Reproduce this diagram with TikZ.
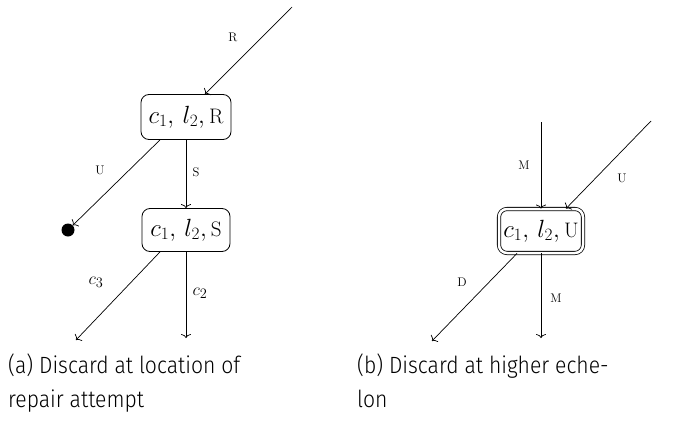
\documentclass[tikz,border=0pt]{standalone}
\usepackage{fontspec}
\newfontfamily\capfont{Fira Sans Light}[FakeStretch=0.9]
\usetikzlibrary{calc,arrows.meta}
\newcommand\nsc[1]{{\fontsize{21}{21}\selectfont #1}}
\begin{document}
\begin{tikzpicture}[x=1pt,y=1pt,
  state/.style={draw,rounded corners=8pt,minimum width=90pt,minimum height=45pt,inner sep=1pt,font=\fontsize{27}{30}\selectfont,line width=0.8pt},
  dstate/.style={state,double,double distance=2.5pt,minimum width=84pt,minimum height=44pt},
  edge/.style={-{To[length=4pt,width=10pt]},line width=0.7pt},
  lab/.style={font=\fontsize{12.5}{14}\selectfont,inner sep=0pt},
  mlab/.style={font=\fontsize{19}{22}\selectfont,inner sep=0pt},
  captext/.style={font=\capfont\fontsize{23.5}{34}\selectfont,anchor=north west,align=left,inner sep=0pt},
  dot/.style={circle,fill,inner sep=0pt,minimum size=13pt}]
\useasboundingbox (0,0) rectangle (680,-423);
% panel a
\node[state] (R) at (186,-117) {$c_1,\,l_2,\,$\nsc{R}};
\node[state,minimum width=88pt,minimum height=43pt] (S) at (186,-230) {$c_1,\,l_2,\,$\nsc{S}};
\node[dot] (D1) at (68,-230) {};
\coordinate (rin) at (292,-7);
\coordinate (c3end) at (76,-340);
\coordinate (c2end) at (186,-338);
\draw[edge] (rin) -- ($(R.north)+(19,0)$);
\draw[edge] (R) -- (S);
\draw[edge] ($(R.south)+(-26,0)$) -- (D1);
\draw[edge] ($(S.south)+(-26,0)$) -- (c3end);
\draw[edge] (S) -- (c2end);
\node[lab] (lR) at (233,-37) {R};
\node[lab] (lS) at (196,-172) {S};
\node[lab] (lU) at (100,-170) {U};
\node[mlab] (lc3) at (96,-282) {$c_3$};
\node[mlab] (lc2) at (200,-293) {$c_2$};
% panel b
\node[dstate] (U) at (541,-231) {$c_1,\,l_2,\,$\nsc{U}};
\coordinate (min) at (541,-122);
\coordinate (uin) at (651,-121);
\coordinate (dend) at (432,-341);
\coordinate (mend) at (541,-338);
\draw[edge] (min) -- (U);
\draw[edge] (uin) -- ($(U.north)+(25,0)$);
\draw[edge] ($(U.south)+(-24,0)$) -- (dend);
\draw[edge] (U) -- (mend);
\node[lab] (lM1) at (524,-165) {M};
\node[lab] (lU2) at (622,-178) {U};
\node[lab] (lD) at (462,-282) {D};
\node[lab] (lM2) at (556,-298) {M};
% captions
\node[captext] (capa) at (8,-354) {(a) Discard at location of\\repair attempt};
\node[captext] (capb) at (357,-354) {(b) Discard at higher eche-\\lon};
\end{tikzpicture}
\end{document}
